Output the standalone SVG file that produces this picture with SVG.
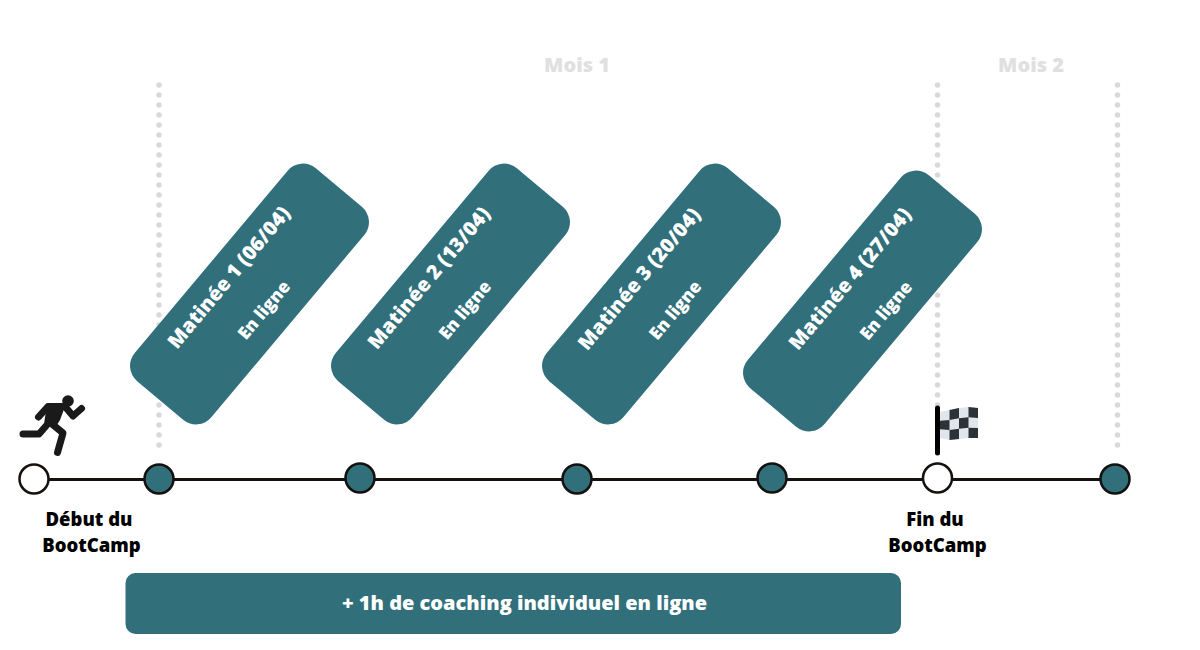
<svg xmlns="http://www.w3.org/2000/svg" width="1200" height="650" viewBox="0 0 1200 650">
<style>
text{font-family:"Open Sans","Noto Sans","Liberation Sans",sans-serif;font-weight:800;text-anchor:middle}
.dots{stroke:#d9d9d9;stroke-width:5.5;stroke-linecap:round;stroke-dasharray:0 10;fill:none}
.box{fill:#31707b}
.t1{fill:#fff;font-size:20px}
.t2{fill:#fff;font-size:17.500px}
.lab{fill:#000;font-size:18.5px}
.mois{fill:#e0e0e0;font-size:20px}
.teal{fill:#31707b;stroke:#14110f;stroke-width:2.5}
.white{fill:#fff;stroke:#14110f;stroke-width:2.5}
</style>
<rect width="1200" height="650" fill="#fff"/>
<g id="connectors">
<path class="dots" d="M159 85V455"/>
<path class="dots" d="M937.500 85V455"/>
<path class="dots" d="M1117.500 85V455"/>
<path d="M34 479.500H1115" stroke="#14110f" stroke-width="3" fill="none"/>
</g>
<g id="mois1"><text class="mois" x="577" y="72">Mois 1</text></g>
<g id="mois2"><text class="mois" x="1031" y="72">Mois 2</text></g>
<g id="box1" transform="translate(249.500 294) rotate(-50)">
<rect class="box" x="-139" y="-50" width="278" height="100" rx="20"/>
<text class="t1" x="-0.500" y="-19.600">Matinée 1 (06/04)</text>
<text class="t2" x="-3" y="27.400">En ligne</text>
</g>
<g id="box2" transform="translate(450.500 294) rotate(-50)">
<rect class="box" x="-139" y="-50" width="278" height="100" rx="20"/>
<text class="t1" x="-1.500" y="-20">Matinée 2 (13/04)</text>
<text class="t2" x="-3" y="27.400">En ligne</text>
</g>
<g id="box3" transform="translate(661.500 294) rotate(-50)">
<rect class="box" x="-139" y="-50" width="278" height="100" rx="20"/>
<text class="t1" x="-2.800" y="-20">Matinée 3 (20/04)</text>
<text class="t2" x="-3.500" y="27">En ligne</text>
</g>
<g id="box4" transform="translate(862.500 301) rotate(-50)">
<rect class="box" x="-139" y="-50" width="278" height="100" rx="20"/>
<text class="t1" x="9" y="-17">Matinée 4 (27/04)</text>
<text class="t2" x="7.800" y="30">En ligne</text>
</g>
<g id="runner">
<circle cx="68" cy="401" r="5.800" fill="#1a1a1a"/>
<path d="M38.500 417L48 406.500H65L73 416L81.500 408.500M52 424L63 433L57.500 452.500M46 426L39 434H23" fill="none" stroke="#1a1a1a" stroke-width="7" stroke-linecap="round" stroke-linejoin="round"/>
<path d="M47 404H66L60 420L55 428L44 424Z" fill="#1a1a1a"/>
</g>
<g id="flag">
<path d="M940 412L949.500 410L959 408L968.500 407L978 408V438L968.500 438L959 439L949.500 440L940 438Z" fill="#e1e6ec"/>
<path d="M949.500 410L959 408V418.300L949.500 420ZM968.500 407L978 408V418L968.500 417.300ZM940 420.700L949.500 420V430L940 429.300ZM959 418.300L968.500 417.300V427.700L959 428.700ZM949.500 430L959 428.700V439L949.500 440ZM968.500 427.700L978 428V438L968.500 438Z" fill="#2b3238"/>
<path d="M937.500 408V453" stroke="#000" stroke-width="5" stroke-linecap="round"/>
</g>
<g id="n1"><circle class="white" cx="34" cy="479" r="14.500"/></g>
<g id="n2"><circle class="teal" cx="159" cy="479" r="14.500"/></g>
<g id="n3"><circle class="teal" cx="360" cy="478" r="14.500"/></g>
<g id="n4"><circle class="teal" cx="577" cy="479" r="14.500"/></g>
<g id="n5"><circle class="teal" cx="772" cy="478" r="14.500"/></g>
<g id="n6"><circle class="white" cx="937.500" cy="478" r="14.500"/></g>
<g id="n7"><circle class="teal" cx="1115" cy="479" r="14.500"/></g>
<g id="label-debut">
<text class="lab" x="89" y="526">Début du</text>
<text class="lab" x="91.500" y="552">BootCamp</text>
</g>
<g id="label-fin">
<text class="lab" x="935" y="526">Fin du</text>
<text class="lab" x="937.500" y="552">BootCamp</text>
</g>
<g id="coaching">
<rect class="box" x="125.500" y="573" width="775.500" height="61" rx="10"/>
<text fill="#fff" font-size="20" x="524.500" y="610">+ 1h de coaching individuel en ligne</text>
</g>
</svg>
